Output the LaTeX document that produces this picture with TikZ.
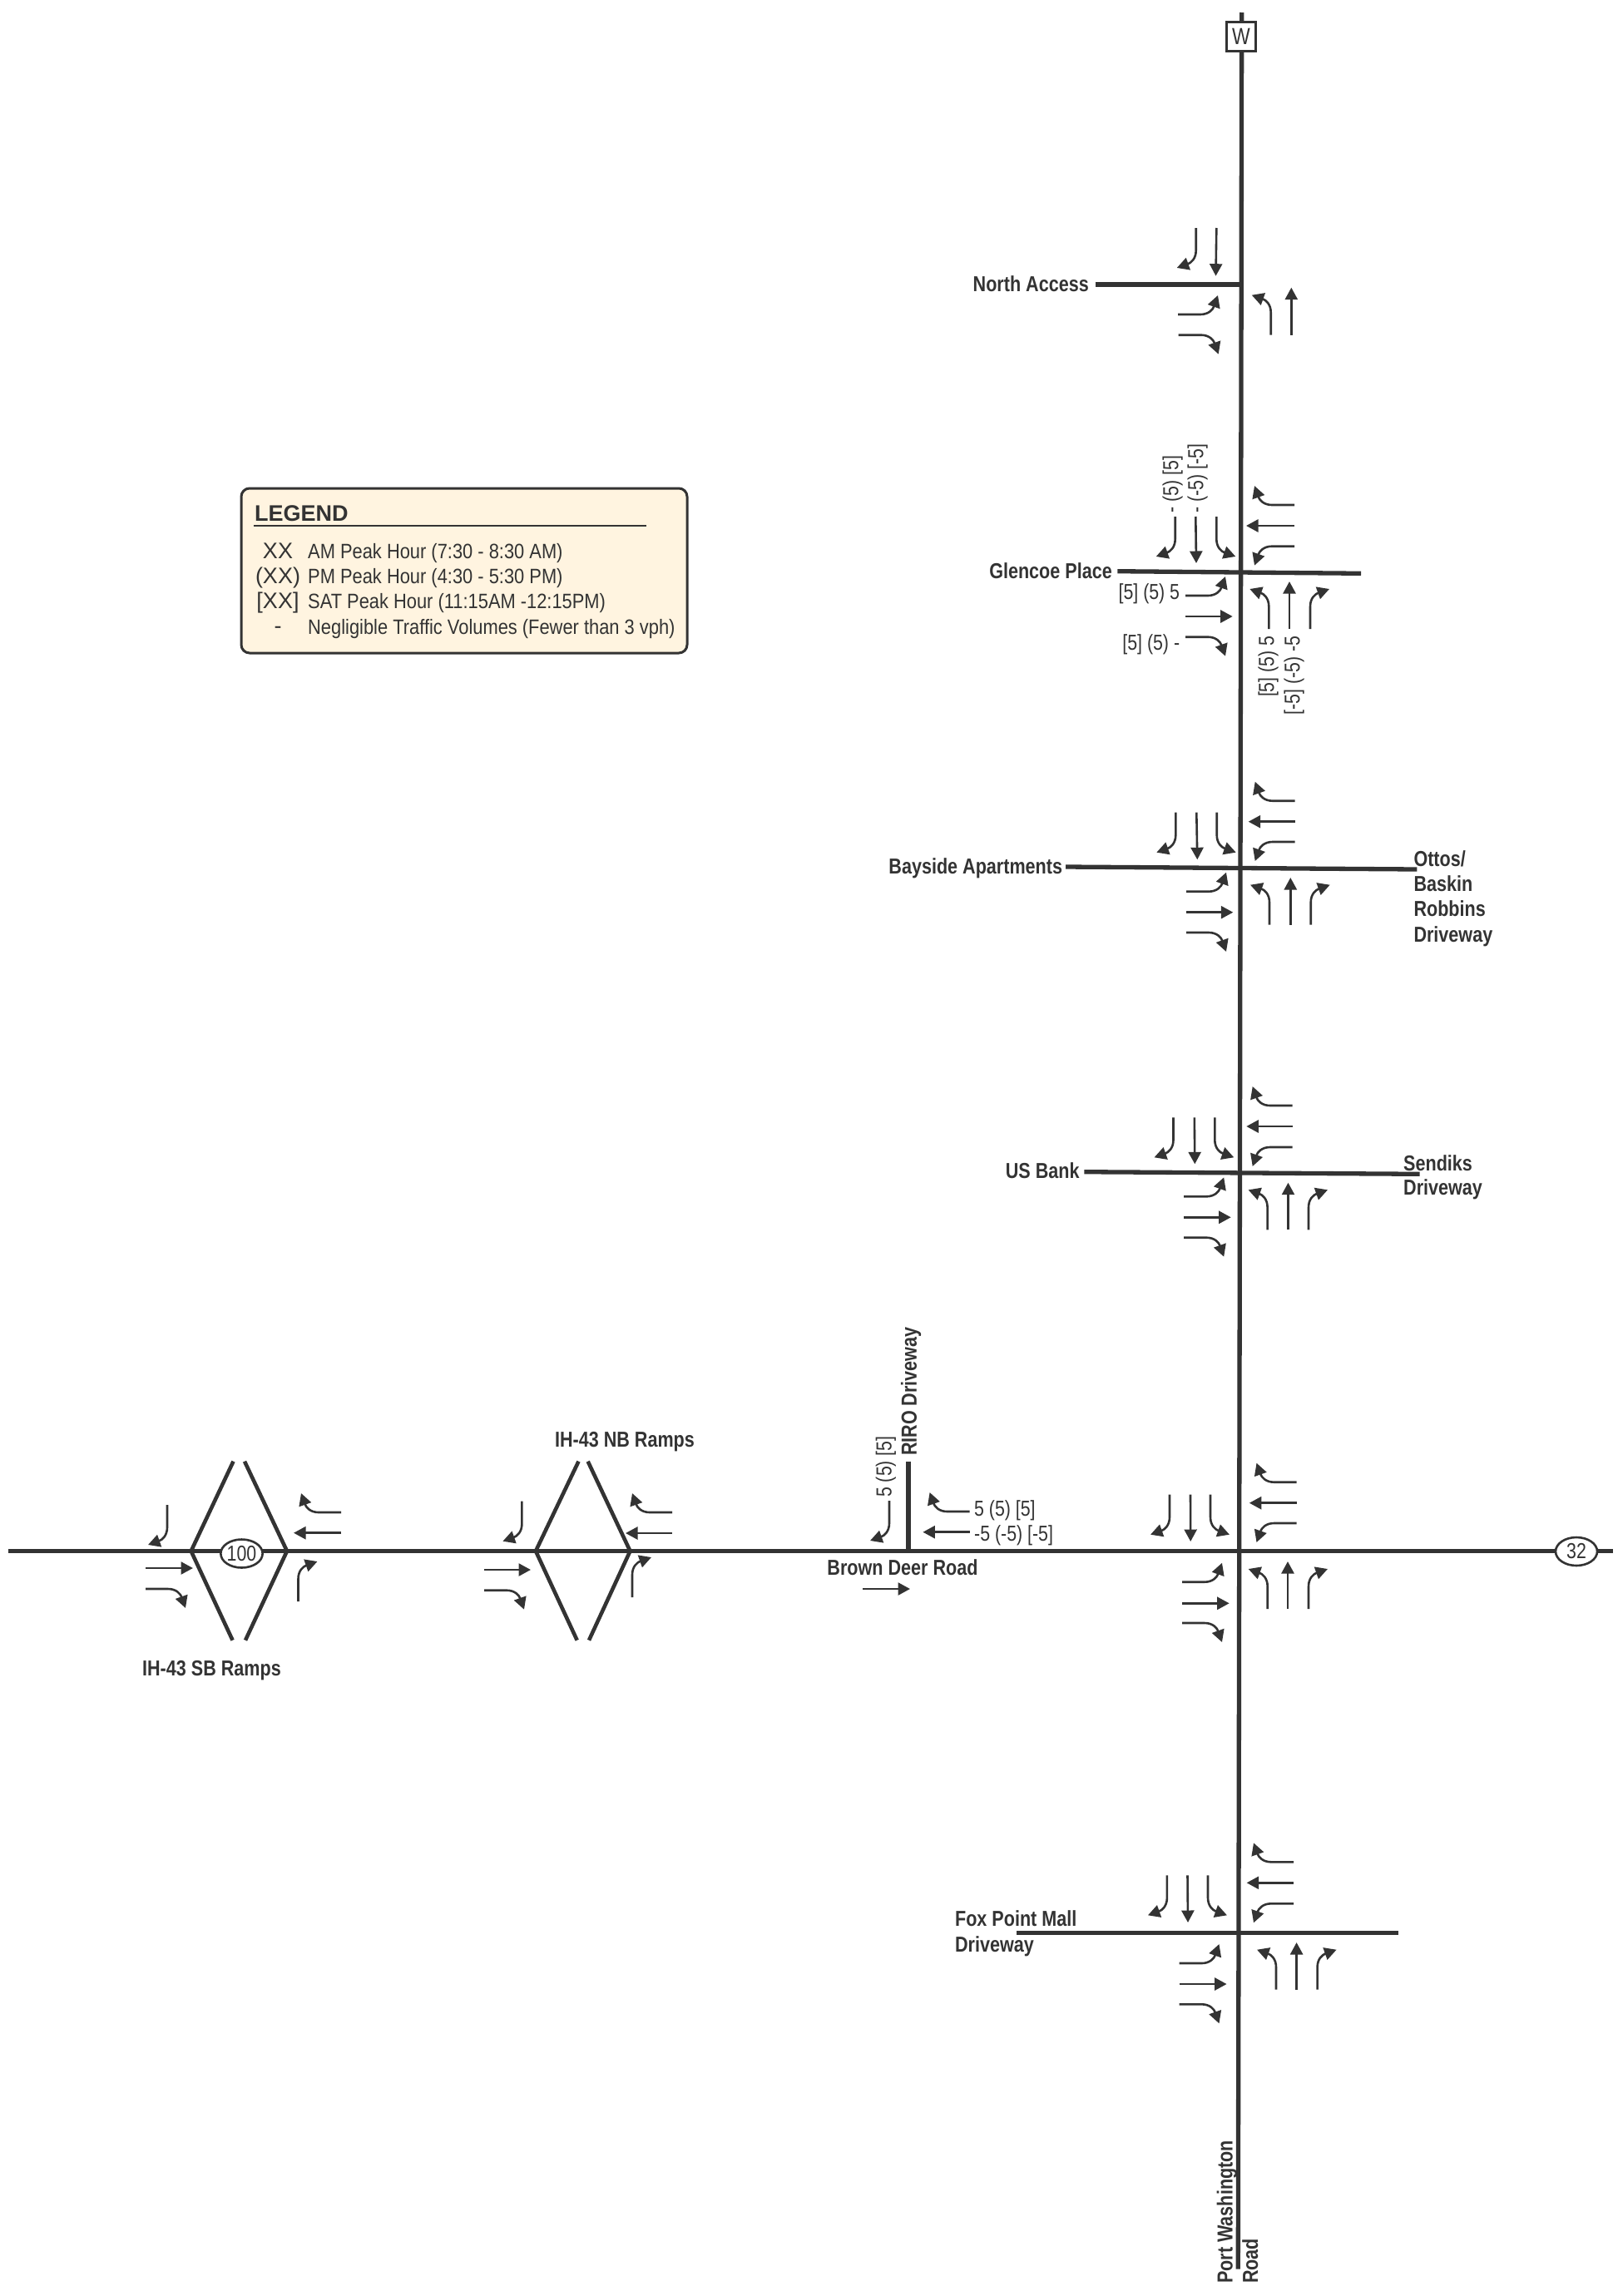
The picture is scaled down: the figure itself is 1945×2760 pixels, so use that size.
\documentclass[tikz,border=0pt]{standalone}
\usepackage{fontspec}
\usetikzlibrary{arrows.meta,shapes.geometric}
\newfontfamily\lightlab[FakeStretch=0.82]{Liberation Sans}
\newfontfamily\leglab[FakeStretch=0.875]{Liberation Sans}
\newfontfamily\boldlab[FakeStretch=0.83]{Liberation Sans Bold}
\newfontfamily\titlelab{Liberation Sans Bold}
\newfontfamily\widelab{Liberation Sans}
\definecolor{ink}{HTML}{333333}
\definecolor{cream}{HTML}{FFF4E0}
\tikzset{
  road/.style={draw=ink,line width=5.3pt},
  ramp/.style={draw=ink,line width=4.6pt},
  arw/.style={draw=ink,line width=2.6pt,-{Triangle[length=14.5pt,width=15pt]}},
  vol/.style={text=ink,inner sep=0pt,font=\fontsize{26}{26}\lightlab\selectfont},
  rdname/.style={text=ink,inner sep=0pt,font=\fontsize{26}{26}\boldlab\selectfont},
  leg/.style={text=ink,inner sep=0pt,anchor=base west,font=\fontsize{25}{25}\leglab\selectfont},
  legk/.style={text=ink,inner sep=0pt,anchor=base,font=\fontsize{27}{27}\widelab\selectfont},
  shield/.style={ellipse,draw=ink,line width=2.6pt,fill=white,inner sep=0pt,minimum width=50pt,minimum height=34pt,text=ink,font=\fontsize{26}{26}\lightlab\selectfont},
  WR/.style={x={(-1pt,0pt)},y={(0pt,1pt)}},
  WL/.style={x={(-1pt,0pt)},y={(0pt,-1pt)}},
  SR/.style={x={(0pt,-1pt)},y={(-1pt,0pt)}},
  SL/.style={x={(0pt,-1pt)},y={(1pt,0pt)}},
  EL/.style={x={(1pt,0pt)},y={(0pt,1pt)}},
  ER/.style={x={(1pt,0pt)},y={(0pt,-1pt)}},
  NL/.style={x={(0pt,1pt)},y={(-1pt,0pt)}},
  NR/.style={x={(0pt,1pt)},y={(1pt,0pt)}},
}
\newcommand\turnarrow[3]{\begin{scope}[shift={(#1,#2)},#3]
  \draw[arw] (0,0) -- (27,0) .. controls (37,0) and (42,6) .. (48,23);
\end{scope}}
\newcommand\straightarrow[4]{\draw[arw] (#1,#2) -- (#3,#4);}
\begin{document}
\begin{tikzpicture}[x=1pt,y=-1pt]
\useasboundingbox (0,0) rectangle (1945,2760);
% roads
\coordinate (mainN) at (1492.7,15);
\coordinate (mainS) at (1488.3,2727.7);
\coordinate (bdW) at (10,1864.5);
\coordinate (bdE) at (1939,1864.5);
\draw[road] (mainN) -- (mainS);
\draw[road] (bdW) -- (bdE);
\coordinate (naW) at (1316.7,342); \coordinate (naE) at (1492,342);
\draw[road] (naW) -- (naE);
\coordinate (glW) at (1343.3,686.7); \coordinate (glE) at (1636,689.3);
\draw[road] (glW) -- (glE);
\coordinate (baW) at (1281,1042); \coordinate (baE) at (1703.3,1045);
\draw[road] (baW) -- (baE);
\coordinate (usW) at (1303.4,1408.7); \coordinate (usE) at (1706.7,1411.3);
\draw[road] (usW) -- (usE);
\coordinate (fpW) at (1221.8,2323.3); \coordinate (fpE) at (1681,2323.3);
\draw[road] (fpW) -- (fpE);
\coordinate (riN) at (1092,1756.7); \coordinate (riS) at (1092,1864.5);
\draw[road] (riN) -- (riS);
% ramps
\coordinate (aW) at (229.7,1864.5); \coordinate (aE) at (345,1864.5);
\coordinate (aNL) at (280.5,1756.7); \coordinate (aNR) at (294,1756.7);
\coordinate (aSL) at (279.6,1971.7); \coordinate (aSR) at (295,1971.7);
\draw[ramp] (aNL) -- (aW) -- (aSL);
\draw[ramp] (aNR) -- (aE) -- (aSR);
\coordinate (bW) at (644,1864.5); \coordinate (bE) at (757.5,1864.5);
\coordinate (bNL) at (695.5,1756.7); \coordinate (bNR) at (706.7,1756.7);
\coordinate (bSL) at (693.7,1971.7); \coordinate (bSR) at (708,1971.7);
\draw[ramp] (bNL) -- (bW) -- (bSL);
\draw[ramp] (bNR) -- (bE) -- (bSR);
% shields
\node[draw=ink,line width=3pt,fill=white,minimum size=35pt,inner sep=0pt,text=ink,font=\fontsize{28}{28}\lightlab\selectfont] (shW) at (1492,43.5) {W};
\node[shield] (sh100) at (290.5,1867.5) {100};
\node[shield] (sh32) at (1895,1865) {32};
% North Access
\turnarrow{1437.7}{274}{SR}
\straightarrow{1462.3}{274}{1461.5}{331.7}
\turnarrow{1416}{378}{EL}
\turnarrow{1416.7}{402.7}{ER}
\turnarrow{1527.7}{402.7}{NL}
\straightarrow{1552.3}{402.7}{1552.3}{345.7}
% Glencoe
\turnarrow{1556}{607}{WR}
\straightarrow{1556}{632}{1498}{632}
\turnarrow{1556}{656.7}{WL}
\turnarrow{1412.7}{621}{SR}
\straightarrow{1437.3}{621}{1438}{677}
\turnarrow{1462.3}{621}{SL}
\turnarrow{1425}{716}{EL}
\straightarrow{1425}{741}{1481.7}{741}
\turnarrow{1425}{765.7}{ER}
\turnarrow{1525.3}{756}{NL}
\straightarrow{1550}{756}{1550}{699}
\turnarrow{1575}{756}{NR}
% Bayside
\turnarrow{1556.7}{962.7}{WR}
\straightarrow{1556.7}{987.7}{1500.7}{987.7}
\turnarrow{1556.7}{1012}{WL}
\turnarrow{1413.3}{976.7}{SR}
\straightarrow{1438.3}{976.7}{1439.3}{1033.3}
\turnarrow{1462.7}{976.7}{SL}
\turnarrow{1426}{1071.7}{EL}
\straightarrow{1426}{1096.7}{1482.3}{1096.7}
\turnarrow{1426}{1121}{ER}
\turnarrow{1526}{1111.7}{NL}
\straightarrow{1551.3}{1111.7}{1551.3}{1055}
\turnarrow{1575.7}{1111.7}{NR}
% US Bank
\turnarrow{1553.7}{1329}{WR}
\straightarrow{1553.7}{1354}{1498.3}{1354}
\turnarrow{1553.7}{1379}{WL}
\turnarrow{1410.5}{1343.3}{SR}
\straightarrow{1435.8}{1343.3}{1436.3}{1399.3}
\turnarrow{1460.3}{1343.3}{SL}
\turnarrow{1423.2}{1438.3}{EL}
\straightarrow{1423.2}{1463.3}{1479.7}{1463.3}
\turnarrow{1423.2}{1487.7}{ER}
\turnarrow{1523.6}{1478.3}{NL}
\straightarrow{1548.5}{1478.3}{1548.5}{1421.7}
\turnarrow{1573}{1478.3}{NR}
% Brown Deer / Port Washington
\turnarrow{1558.5}{1781.7}{WR}
\straightarrow{1558.5}{1806.7}{1501.8}{1806.7}
\turnarrow{1558.5}{1831}{WL}
\turnarrow{1406}{1796.7}{SR}
\straightarrow{1431}{1796.7}{1431.2}{1853}
\turnarrow{1455}{1796.7}{SL}
\turnarrow{1421}{1901.7}{EL}
\straightarrow{1421}{1927.3}{1477.7}{1927.3}
\turnarrow{1421}{1951}{ER}
\turnarrow{1523.7}{1934}{NL}
\straightarrow{1548}{1934}{1548}{1877}
\turnarrow{1573}{1934}{NR}
% Fox Point
\turnarrow{1555}{2238.3}{WR}
\straightarrow{1555}{2263.3}{1498.6}{2263.3}
\turnarrow{1555}{2288.3}{WL}
\turnarrow{1402.9}{2254.3}{SR}
\straightarrow{1427.5}{2254.3}{1428}{2311}
\turnarrow{1452}{2254.3}{SL}
\turnarrow{1417.5}{2360}{EL}
\straightarrow{1417.5}{2385}{1474.6}{2385}
\turnarrow{1417.5}{2409.3}{ER}
\turnarrow{1534}{2391.7}{NL}
\straightarrow{1558.6}{2391.7}{1558.6}{2335}
\turnarrow{1583.6}{2391.7}{NR}
% RIRO
\turnarrow{1165.6}{1817}{WR}
\straightarrow{1165.6}{1841.7}{1109.4}{1841.7}
\turnarrow{1069}{1804}{SR}
\straightarrow{1037}{1910}{1094}{1910}
% SB ramps
\turnarrow{201}{1809}{SR}
\straightarrow{175}{1885}{232}{1885}
\turnarrow{175}{1910}{ER}
\turnarrow{410}{1818}{WR}
\straightarrow{410}{1842.7}{353}{1842.7}
\turnarrow{358.5}{1925}{NR}
% NB ramps
\turnarrow{627.4}{1804.7}{SR}
\straightarrow{582}{1887}{638}{1887}
\turnarrow{582}{1911.7}{ER}
\turnarrow{808}{1818}{WR}
\straightarrow{808}{1843}{752}{1843}
\turnarrow{760}{1920}{NR}
% road names
\node[rdname,anchor=base east] (tNA) at (1309,350.7) {North Access};
\node[rdname,anchor=base east] (tGP) at (1337,695.7) {Glencoe Place};
\node[rdname,anchor=base east] (tBA) at (1277.3,1050) {Bayside Apartments};
\node[rdname,anchor=base west] (tOt1) at (1699.3,1041.3) {Ottos/};
\node[rdname,anchor=base west] (tOt2) at (1699.3,1071.3) {Baskin};
\node[rdname,anchor=base west] (tOt3) at (1699.3,1101.7) {Robbins};
\node[rdname,anchor=base west] (tOt4) at (1699.3,1132.3) {Driveway};
\node[rdname,anchor=base east] (tUS) at (1297.8,1416) {US Bank};
\node[rdname,anchor=base west] (tSe1) at (1687,1407) {Sendiks};
\node[rdname,anchor=base west] (tSe2) at (1687,1436.7) {Driveway};
\node[rdname,anchor=base west] (tFo1) at (1147.9,2315) {Fox Point Mall};
\node[rdname,anchor=base west] (tFo2) at (1147.9,2346) {Driveway};
\node[rdname,anchor=base] (tBD) at (1085,1893) {Brown Deer Road};
\node[rdname,anchor=base] (tNB) at (751,1739) {IH-43 NB Ramps};
\node[rdname,anchor=base] (tSB) at (254.5,2014.7) {IH-43 SB Ramps};
\node[rdname,anchor=base east,rotate=90] (tRI) at (1101.9,1595) {RIRO Driveway};
\node[rdname,anchor=base west,rotate=90] (tPW) at (1481.7,2745) {Port Washington};
\node[rdname,anchor=base west,rotate=90] (tRd) at (1512,2745) {Road};
% volumes
\node[vol,anchor=base east] (v1) at (1418.3,720.7) {[5] (5) 5};
\node[vol,anchor=base east] (v2) at (1418.3,781.3) {[5] (5) -};
\node[vol,anchor=base west,rotate=90] (v3) at (1416.3,616.7) {- (5) [5]};
\node[vol,anchor=base west,rotate=90] (v4) at (1446.3,616.7) {- (-5) [-5]};
\node[vol,anchor=base east,rotate=90] (v5) at (1531.3,764.3) {[5] (5) 5};
\node[vol,anchor=base east,rotate=90] (v6) at (1562.3,764.3) {[-5] (-5) -5};
\node[vol,anchor=base west,rotate=90] (v7) at (1071.5,1800) {5 (5) [5]};
\node[vol,anchor=base west] (v8) at (1171,1822.3) {5 (5) [5]};
\node[vol,anchor=base west] (v9) at (1171,1852.3) {-5 (-5) [-5]};
% legend
\node[draw=ink,line width=3pt,fill=cream,rounded corners=10pt,minimum width=536pt,minimum height=198pt,inner sep=0pt] (legbox) at (558,686) {};
\node[text=ink,inner sep=0pt,anchor=base west,font=\fontsize{27}{27}\titlelab\selectfont] (legtitle) at (306,626.5) {LEGEND};
\coordinate (ruleW) at (304.5,632); \coordinate (ruleE) at (777,632);
\draw[draw=ink,line width=2.6pt] (ruleW) -- (ruleE);
\node[legk] (k1) at (334,671.5) {XX};
\node[legk] (k2) at (334,701.5) {(XX)};
\node[legk] (k3) at (334,731.5) {[XX]};
\node[legk] (k4) at (334,761.5) {-};
\node[leg] (l1) at (370,671.5) {AM Peak Hour (7:30 - 8:30 AM)};
\node[leg] (l2) at (370,701.5) {PM Peak Hour (4:30 - 5:30 PM)};
\node[leg] (l3) at (370,731.5) {SAT Peak Hour (11:15AM -12:15PM)};
\node[leg] (l4) at (370,762) {Negligible Traffic Volumes (Fewer than 3 vph)};
\end{tikzpicture}
\end{document}
